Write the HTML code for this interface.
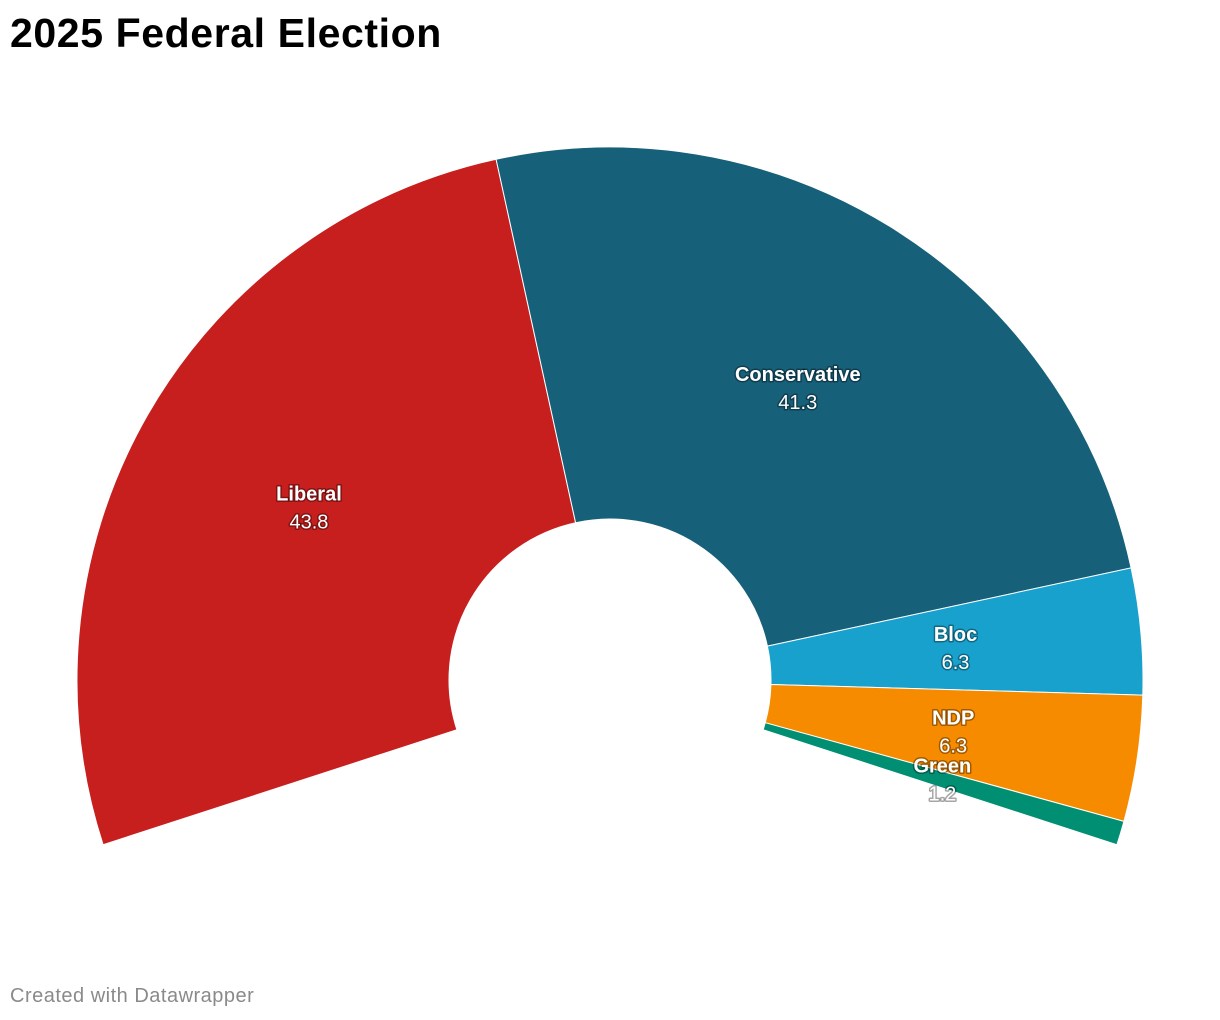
<!DOCTYPE html>
<html><head><meta charset="utf-8"><style>
body{margin:0;background:#fff;width:1220px;height:1020px;overflow:hidden;font-family:"Liberation Sans",Roboto,sans-serif}
h1{position:absolute;left:10px;top:10px;margin:0;font-size:41px;font-weight:bold;color:#000;letter-spacing:0.6px}
.foot{position:absolute;left:10px;top:985px;font-size:20px;color:#8a8a8a;letter-spacing:0.5px}
svg{position:absolute;left:0;top:0}
.lbl{fill:#fff;font-size:20px;text-anchor:middle;paint-order:stroke;stroke:rgba(0,0,0,0.35);stroke-width:3px;stroke-linejoin:round}
</style></head><body>
<h1>2025 Federal Election</h1>
<svg id="c" width="1220" height="1020"></svg>
<div class="foot">Created with Datawrapper</div>
<script>
const parties=["Liberal","Conservative","Bloc","NDP","Green"];
const values=[43.8,41.3,6.3,6.3,1.2];
const colors=["#c71e1e","#17607a","#18a1cd","#f78b00","#008f72"];
const cx=610,cy=680,R=533,r0=161,span=216,start=-108;
const svg=document.getElementById('c');
const NS="http://www.w3.org/2000/svg";
const total=values.reduce((a,b)=>a+b,0);
function pt(rad,deg){const a=deg*Math.PI/180;return [cx+rad*Math.sin(a),cy-rad*Math.cos(a)];}
let a0=start;
values.forEach((v,i)=>{
  const a1=a0+v/total*span;
  const [x1,y1]=pt(R,a0),[x2,y2]=pt(R,a1),[x3,y3]=pt(r0,a1),[x4,y4]=pt(r0,a0);
  const lg=(a1-a0)>180?1:0;
  const p=document.createElementNS(NS,'path');
  p.setAttribute('d',`M${x1},${y1}A${R},${R} 0 ${lg} 1 ${x2},${y2}L${x3},${y3}A${r0},${r0} 0 ${lg} 0 ${x4},${y4}Z`);
  p.setAttribute('fill',colors[i]);p.setAttribute('stroke','#fff');p.setAttribute('stroke-width','1');
  
  
  svg.appendChild(p);
  const [lx,ly]=pt((R+r0)/2,(a0+a1)/2);
  const t=document.createElementNS(NS,'text');
  t.setAttribute('class','lbl');t.setAttribute('x',lx);t.setAttribute('y',ly-7);
  t.setAttribute('font-weight','bold');t.textContent=parties[i];
  
  
  svg.appendChild(t);
  const t2=document.createElementNS(NS,'text');
  t2.setAttribute('class','lbl');t2.setAttribute('x',lx);t2.setAttribute('y',ly+21);
  t2.textContent=v.toFixed(1);
  
  
  svg.appendChild(t2);
  a0=a1;
});
</script>
</body></html>
